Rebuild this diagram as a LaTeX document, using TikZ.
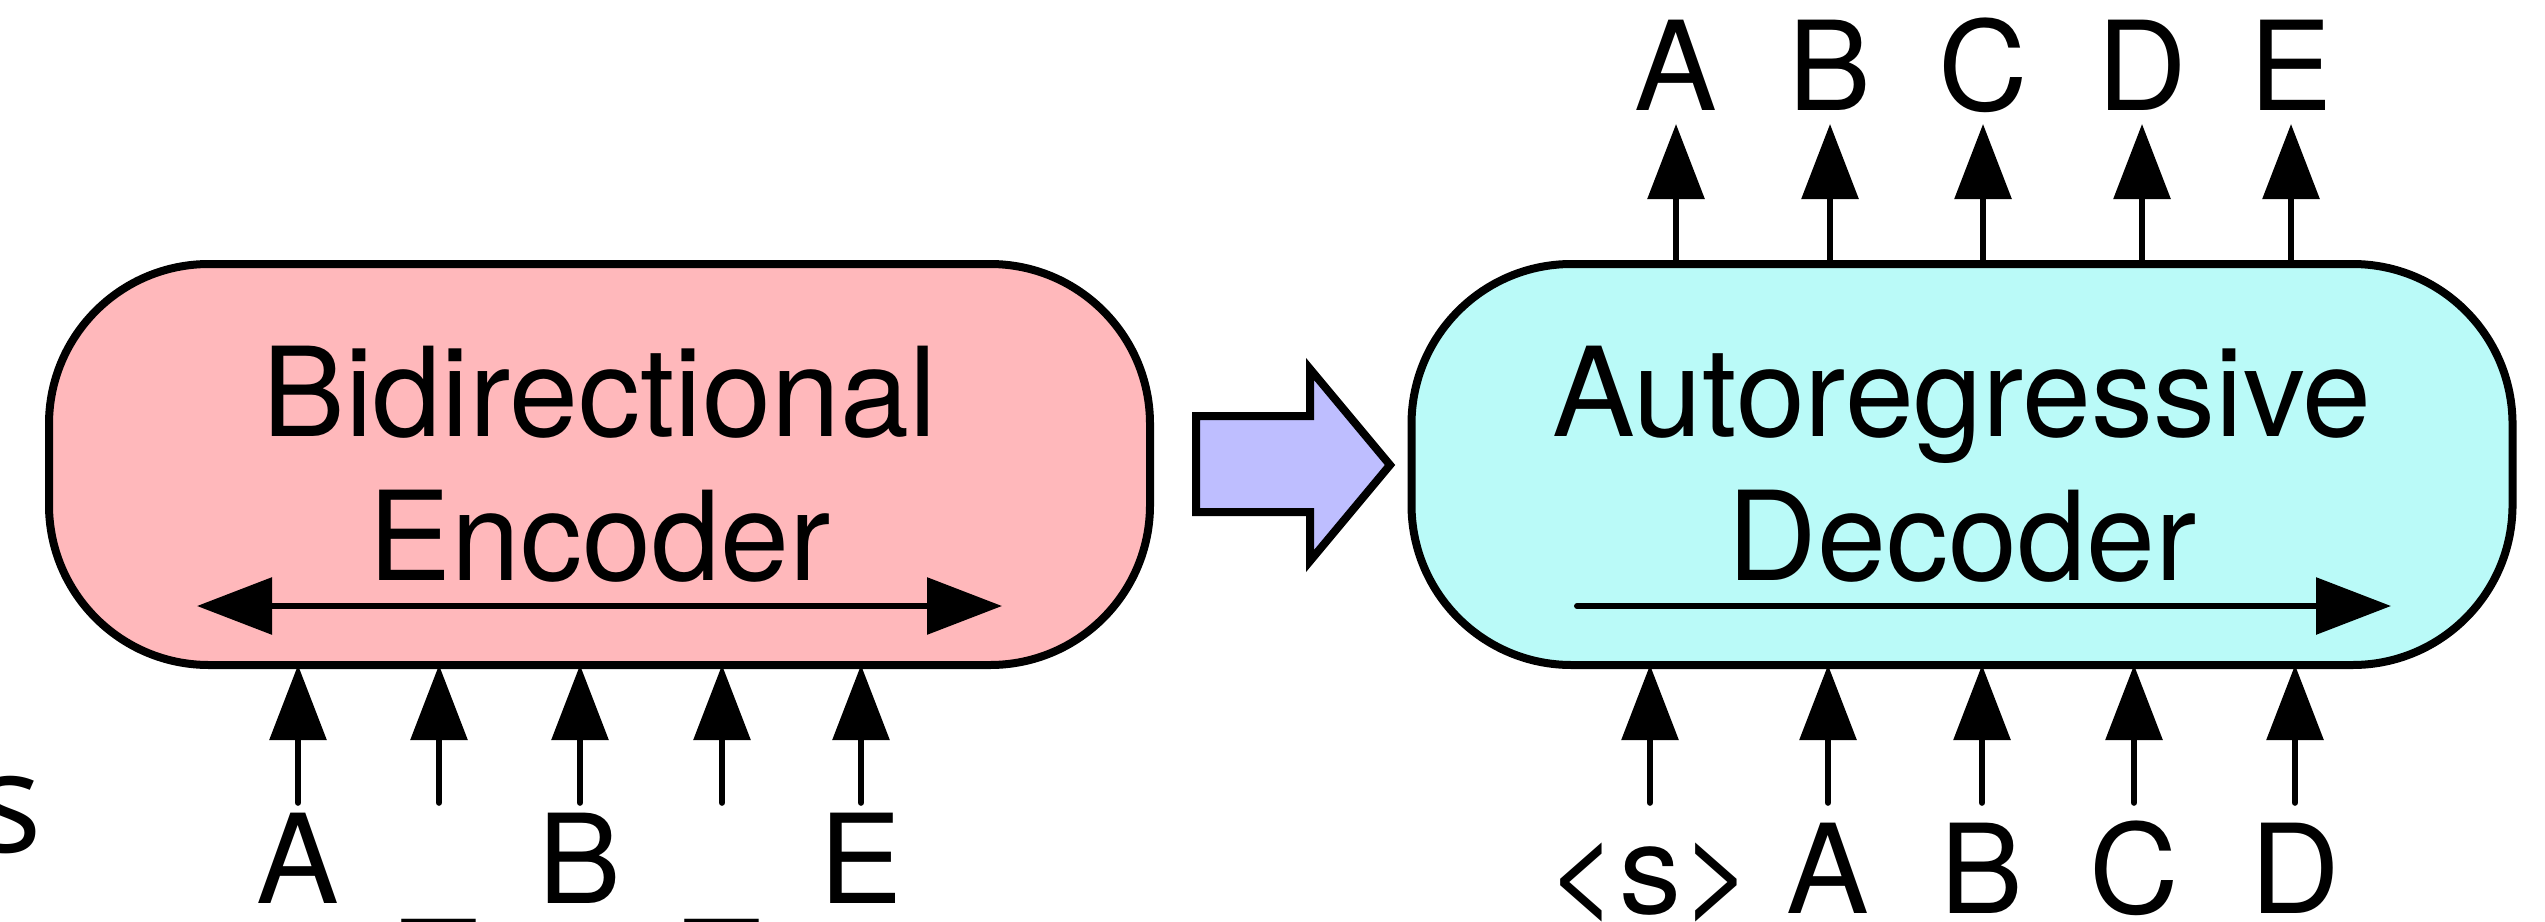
\documentclass[tikz,border=0pt]{standalone}
\usepackage{fontspec}
\setmainfont{TeX Gyre Heros}
\newfontfamily\slidefont{Open Sans}
\usetikzlibrary{arrows.meta}
\definecolor{encpink}{RGB}{255,184,187}
\definecolor{deccyan}{RGB}{186,250,248}
\definecolor{passblue}{RGB}{190,190,255}
\tikzset{
	block/.style={draw=black, line width=2pt, rounded corners=40pt,
		minimum width=275.25pt, minimum height=100.25pt, inner sep=0pt,
		outer sep=0pt, align=center, font=\fontsize{31}{36}\selectfont},
	tok/.style={->, line width=1.5pt, line cap=round},
	word/.style={inner sep=0pt, text height=22.3pt, text depth=0pt,
		font=\fontsize{31}{36}\selectfont, anchor=base}
}
\begin{document}
\begin{tikzpicture}[x=0.25pt, y=-0.25pt, >={Triangle[length=18.75pt,width=14pt]}]
		\useasboundingbox (0,0) rectangle (2545,921);
		% the two boxes
		\node[block, fill=encpink] (enc) at (599.5,464.5) {Bidirectional\\Encoder};
		\node[block, fill=deccyan] (dec) at (1962,464.5) {Autoregressive\\Decoder};
		% direction inside the boxes
		\coordinate (el) at (197,606);
		\coordinate (er) at (1002,606);
		\coordinate (dl) at (1577,606);
		\coordinate (dr) at (2391,606);
		\draw[tok, <->] (el) -- (er);
		\draw[tok] (dl) -- (dr);
		% big arrow between them
		\draw[fill=passblue, line width=2pt, miter limit=10] (1196,416) -- (1310,416) -- (1310,369) -- (1390,465) -- (1310,561) -- (1310,512) -- (1196,512) -- cycle;
		% encoder inputs
		\node[word, outer sep=2.75pt] (ea) at (298,903) {A};
		\node[word, outer sep=2.75pt] (eb) at (439,903) {\_};
		\node[word, outer sep=2.75pt] (ec) at (580,903) {B};
		\node[word, outer sep=2.75pt] (ed) at (722,903) {\_};
		\node[word, outer sep=2.75pt] (ee) at (861,903) {E};
		\draw[tok] (ea.north) -- (ea.north |- enc.south);
		\draw[tok] (eb.north) -- (eb.north |- enc.south);
		\draw[tok] (ec.north) -- (ec.north |- enc.south);
		\draw[tok] (ed.north) -- (ed.north |- enc.south);
		\draw[tok] (ee.north) -- (ee.north |- enc.south);
		% decoder inputs
		\node[word, outer sep=5.25pt] (d0) at (1650,913) {<s>};
		\node[word, outer sep=5.25pt] (d1) at (1828,913) {A};
		\node[word, outer sep=5.25pt] (d2) at (1982,913) {B};
		\node[word, outer sep=5.25pt] (d3) at (2134,913) {C};
		\node[word, outer sep=5.25pt] (d4) at (2295,913) {D};
		\draw[tok] (d0.north) -- (d0.north |- dec.south);
		\draw[tok] (d1.north) -- (d1.north |- dec.south);
		\draw[tok] (d2.north) -- (d2.north |- dec.south);
		\draw[tok] (d3.north) -- (d3.north |- dec.south);
		\draw[tok] (d4.north) -- (d4.north |- dec.south);
		% decoder outputs
		\node[word, outer sep=3.5pt] (o1) at (1676,110) {A};
		\node[word, outer sep=3.5pt] (o2) at (1830,110) {B};
		\node[word, outer sep=3.5pt] (o3) at (1983,110) {C};
		\node[word, outer sep=3.5pt] (o4) at (2142,110) {D};
		\node[word, outer sep=3.5pt] (o5) at (2291,110) {E};
		\draw[tok] (o1 |- dec.north) -- (o1.south);
		\draw[tok] (o2 |- dec.north) -- (o2.south);
		\draw[tok] (o3 |- dec.north) -- (o3.south);
		\draw[tok] (o4 |- dec.north) -- (o4.south);
		\draw[tok] (o5 |- dec.north) -- (o5.south);
		% leftover letter at the edge
		\node[font=\slidefont\fontsize{35}{40}\selectfont, anchor=base west, inner sep=0pt] (cut) at (-25,852) {s};
	\end{tikzpicture}
\end{document}
